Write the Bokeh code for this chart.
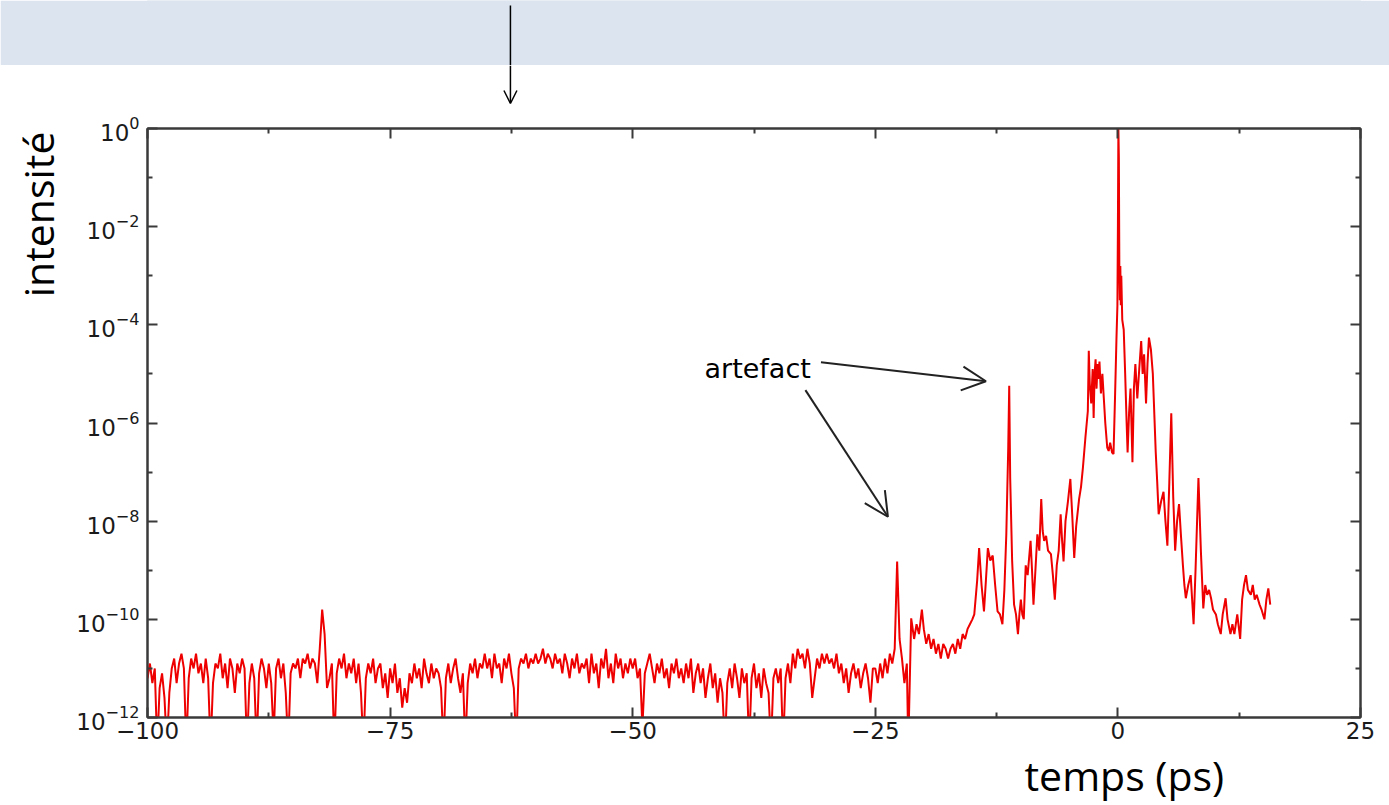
import math
from bokeh.plotting import figure
from bokeh.layouts import column
from bokeh.models import (FixedTicker, LinearAxis, LogAxis, Label, Arrow, OpenHead, Title,
                          Range1d, ColumnDataSource, CustomJSTickFormatter)
from bokeh.embed import file_html
from bokeh.resources import INLINE

# ---------------- data (log10 of intensity) ----------------
base_x0 = -100.0
base_dx = 0.25
base_log = [
    # -100 .. -95
    -11.2, -10.9, -11.3, -11.0, -12.6, -11.4, -11.1, -11.6, -12.6, -11.5,
    -11.0, -10.8, -11.3, -10.9, -10.7, -11.0, -12.6, -11.2, -10.8, -11.0,
    # -95 .. -90
    -10.7, -11.1, -10.9, -11.3, -10.8, -11.2, -12.6, -11.3, -10.9, -11.0,
    -10.7, -11.2, -10.9, -11.4, -10.8, -11.0, -11.5, -10.9, -11.1, -10.8,
    # -90 .. -85
    -11.0, -12.6, -11.3, -10.9, -11.2, -12.6, -11.1, -10.8, -11.0, -11.4,
    -10.9, -11.3, -12.4, -11.0, -10.8, -11.2, -10.9, -11.5, -12.6, -11.1,
    # -85 .. -80
    -10.9, -11.0, -10.8, -11.2, -10.8, -10.9, -10.7, -11.0, -10.8, -10.9,
    -11.3, -10.6, -9.8, -10.3, -11.4, -11.2, -10.9, -12.6, -11.1, -10.8,
    # -80 .. -75
    -11.0, -10.7, -11.2, -10.9, -11.1, -10.8, -11.3, -10.9, -11.5, -12.6,
    -11.2, -10.9, -11.1, -10.8, -11.3, -11.0, -10.9, -11.4, -11.1, -11.6,
    # -75 .. -70
    -11.0, -11.3, -10.9, -11.5, -11.2, -11.8, -11.4, -11.7, -11.1, -11.3,
    -10.9, -11.2, -11.0, -11.4, -10.8, -11.1, -11.3, -10.9, -11.2, -11.0,
    # -70 .. -65
    -11.1, -11.4, -12.6, -11.2, -10.9, -11.3, -11.0, -10.8, -11.2, -11.5,
    -11.1, -12.6, -11.3, -10.9, -11.1, -10.8, -11.2, -10.9, -11.0, -10.7,
    # -65 .. -60
    -11.0, -10.8, -11.2, -10.7, -11.0, -10.9, -11.3, -10.8, -11.0, -10.7,
    -11.1, -11.4, -12.6, -11.0, -10.8, -10.9, -10.7, -11.0, -10.8, -10.9,
    # -60 .. -55
    -10.7, -10.9, -10.8, -10.6, -10.9, -10.7, -10.8, -11.0, -10.7, -10.9,
    -10.8, -11.1, -10.7, -10.9, -11.2, -10.8, -11.0, -10.7, -11.1, -10.9,
    # -55 .. -50
    -11.0, -10.8, -11.3, -10.7, -11.1, -10.9, -11.4, -10.8, -11.0, -10.6,
    -11.2, -10.9, -11.3, -10.7, -11.0, -10.8, -11.2, -10.9, -11.1, -10.8,
    # -50 .. -45
    -11.0, -10.8, -11.2, -11.0, -12.2, -11.1, -10.9, -10.7, -11.0, -11.3,
    -10.9, -11.1, -10.8, -11.2, -11.0, -11.4, -10.9, -11.1, -10.8, -11.2,
    # -45 .. -40
    -11.0, -11.3, -10.9, -11.2, -10.8, -11.5, -11.1, -10.9, -11.3, -11.0,
    -11.6, -11.2, -10.9, -11.4, -11.1, -11.7, -11.2, -11.5, -12.6, -11.3,
    # -40 .. -35
    -11.0, -11.4, -10.9, -11.2, -11.6, -11.0, -11.3, -11.1, -12.6, -11.2,
    -10.9, -11.4, -11.1, -11.6, -11.0, -11.3, -11.5, -12.6, -11.2, -11.0,
    # -35 .. -30
    -11.3, -11.0, -12.6, -11.2, -10.9, -11.3, -10.7, -11.0, -10.6, -10.8,
    -10.7, -11.0, -10.6, -10.9, -11.6, -11.2, -10.8, -11.0, -10.7, -10.9,
    # -30 .. -25
    -10.7, -10.9, -10.8, -11.0, -10.7, -11.1, -10.9, -11.3, -11.0, -11.5,
    -11.1, -10.9, -11.2, -11.0, -11.4, -11.1, -10.9, -11.2, -11.7, -11.0,
]

tail_x = [
    -25.0, -24.75, -24.5, -24.25, -24.0, -23.75, -23.5, -23.25, -23.0, -22.75,
    -22.5, -22.25, -22.0, -21.75, -21.6, -21.3, -21.0, -20.75, -20.5, -20.2,
    -20.0, -19.75, -19.5, -19.25, -19.0, -18.75, -18.5, -18.25, -18.0, -17.75,
    -17.5, -17.25, -17.0, -16.75, -16.5, -16.25, -16.0, -15.75, -15.5, -15.25,
    -15.0, -14.8, -14.5, -14.3, -14.05, -13.8, -13.6, -13.4, -13.15, -12.9,
    -12.65, -12.4, -12.15, -11.9, -11.7, -11.5, -11.3, -11.2, -11.1, -10.9,
    -10.7, -10.5, -10.3, -10.15, -10.0, -9.85, -9.7, -9.5, -9.3, -9.0,
    -8.85, -8.7, -8.5, -8.3, -8.1, -7.9, -7.75, -7.6, -7.4, -7.2,
    -6.9, -6.7, -6.5, -6.3, -6.1, -5.9, -5.75, -5.6, -5.4, -5.15,
    -4.9, -4.7, -4.5, -4.3, -4.0, -3.8, -3.6, -3.35, -3.1, -3.0,
    -2.9, -2.75, -2.6, -2.5, -2.4, -2.3, -2.2, -2.1, -2.0, -1.9,
    -1.75, -1.6, -1.45, -1.3, -1.1, -0.95, -0.8, -0.6, -0.45, -0.3,
    -0.15, -0.05, 0.0, 0.05, 0.1, 0.15, 0.2, 0.25, 0.3, 0.35,
    0.45, 0.6, 0.75, 0.9, 1.0, 1.15, 1.3, 1.5, 1.65, 1.8,
    2.0, 2.2, 2.4, 2.55, 2.7, 2.9, 3.05, 3.2, 3.4, 3.6,
    3.9, 4.05, 4.2, 4.45, 4.7, 4.9, 5.1, 5.3, 5.5, 5.7,
    5.9, 6.1, 6.3, 6.5, 6.7, 6.85, 7.0, 7.25, 7.5, 7.65,
    7.8, 8.0, 8.3, 8.55, 8.8, 9.0, 9.2, 9.4, 9.6, 9.8,
    10.1, 10.3, 10.6, 10.8, 11.1, 11.3, 11.6, 11.8, 12.0, 12.3,
    12.6, 12.8, 13.0, 13.2, 13.4, 13.7, 13.9, 14.1, 14.3, 14.6,
    14.8, 15.1, 15.3, 15.5, 15.7,
]
tail_log = [
    -11.0, -11.3, -10.9, -11.2, -10.8, -11.1, -10.7, -10.9, -10.6, -8.82,
    -10.4, -10.8, -11.3, -10.9, -12.6, -9.98, -10.4, -10.1, -10.3, -9.8,
    -10.2, -10.5, -10.3, -10.6, -10.4, -10.7, -10.5, -10.8, -10.5, -10.6,
    -10.8, -10.6, -10.5, -10.7, -10.4, -10.6, -10.3, -10.4, -10.2, -10.1,
    -10.0, -9.9, -9.2, -8.55, -9.3, -9.84, -9.2, -8.55, -8.8, -8.7,
    -9.3, -9.84, -9.9, -10.1, -9.4, -8.27, -6.5, -5.24, -7.12, -8.8,
    -9.7, -9.9, -10.3, -9.9, -9.6, -9.9, -10.0, -8.9, -9.1, -8.4,
    -9.0, -9.7, -9.0, -8.27, -8.6, -7.55, -8.2, -8.4, -8.3, -8.6,
    -8.67, -9.1, -9.6, -8.9, -8.6, -7.86, -8.4, -8.82, -8.0, -7.6,
    -7.14, -7.9, -8.75, -8.1, -7.55, -7.3, -6.9, -6.3, -5.76, -4.53,
    -5.2, -5.6, -4.9, -5.9, -5.0, -4.7, -5.3, -4.8, -5.1, -4.75,
    -5.4, -5.0, -5.5, -6.0, -6.5, -6.57, -6.4, -6.6, -6.63, -5.5,
    -4.3, -3.6, -2.0, 0.0, -0.6, -2.9, -3.5, -2.8, -3.6, -3.0,
    -3.9, -4.1, -5.0, -6.0, -6.6, -5.8, -5.3, -6.8, -5.3, -4.8,
    -5.5, -4.9, -4.33, -5.0, -4.6, -5.6, -4.8, -4.26, -4.5, -5.0,
    -6.6, -7.2, -7.86, -7.6, -7.4, -8.0, -8.5, -7.2, -5.8, -7.5,
    -8.6, -8.0, -7.65, -8.3, -8.9, -9.3, -9.57, -9.3, -9.1, -9.6,
    -10.1, -9.0, -7.12, -8.6, -9.78, -9.3, -9.5, -9.4, -9.57, -9.8,
    -9.9, -10.1, -10.3, -9.9, -9.57, -10.0, -10.3, -10.1, -10.3, -9.9,
    -10.4, -9.6, -9.3, -9.1, -9.4, -9.5, -9.3, -9.6, -9.5, -9.7,
    -9.8, -10.0, -9.6, -9.37, -9.7,
]

x_ticks = [-100, -75, -50, -25, 0, 25]
x_tick_labels = ["\u2212100", "\u221275", "\u221250", "\u221225", "0", "25"]
x_minor = [-87.5, -62.5, -37.5, -12.5, 12.5]
y_exp_major = [-12, -10, -8, -6, -4, -2, 0]
y_exp_minor = [-11, -9, -7, -5, -3, -1]

annot_text = "artefact"
annot_text_pos = (-42.6, -4.88)          # (x, log10 y)
annot_arrows = [((-30.6, -4.76), (-13.6, -5.15)),
                ((-32.2, -5.33), (-23.7, -7.91))]

# header: blue band (65 px) + white strip (43 px); arrow at x = -62.6 (data units)
W = 1389
BAND_H = 65
GAP_H = 43
head_arrow_x = -62.6
head_arrow_band = (4, 64)     # pixel rows inside the band strip frame
head_arrow_gap = (0, 38)      # pixel rows inside the white strip
BAND_COLOR = "#dbe4ef"
BORDERS = dict(min_border_left=147, min_border_right=29)

# ---------------- header strips ----------------
band = figure(width=W, height=BAND_H, x_range=Range1d(-100, 25), y_range=Range1d(BAND_H - 1, 0),
              output_backend="svg", toolbar_location=None, min_border_top=1, min_border_bottom=0,
              background_fill_color=BAND_COLOR, border_fill_color=BAND_COLOR, **BORDERS)
band.axis.visible = False
band.grid.visible = False
band.outline_line_color = BAND_COLOR
band.outline_line_width = 2
band.segment(x0=[head_arrow_x], y0=[head_arrow_band[0]], x1=[head_arrow_x], y1=[head_arrow_band[1]],
             line_color="black", line_width=1.5)

gap = figure(width=W, height=GAP_H, x_range=Range1d(-100, 25), y_range=Range1d(GAP_H, 0),
             output_backend="svg", toolbar_location=None, min_border_top=0, min_border_bottom=0,
             background_fill_color="white", border_fill_color="white", **BORDERS)
gap.axis.visible = False
gap.grid.visible = False
gap.outline_line_color = None
gap.add_layout(Arrow(x_start=head_arrow_x, y_start=head_arrow_gap[0],
                     x_end=head_arrow_x, y_end=head_arrow_gap[1],
                     line_color="black", line_width=1.5,
                     end=OpenHead(size=13, line_color="black", line_width=1.5)))

HEAD_H = BAND_H + GAP_H

# ---------------- main plot ----------------
xs = [base_x0 + base_dx * i for i in range(len(base_log))] + tail_x
ys = [10.0 ** v for v in base_log + tail_log]
src = ColumnDataSource(dict(x=xs, y=ys))

p = figure(width=W, height=805 - HEAD_H, x_range=Range1d(-100, 25), y_range=Range1d(1e-12, 1.0),
           y_axis_type="log", output_backend="svg", toolbar_location=None,
           min_border_top=128 - HEAD_H, min_border_bottom=87,
           background_fill_color="white", border_fill_color="white", **BORDERS)
p.xgrid.visible = False
p.ygrid.visible = False
p.outline_line_color = "#3a3a3a"
p.outline_line_width = 2

xticker = FixedTicker(ticks=x_ticks, minor_ticks=x_minor)
yticker = FixedTicker(ticks=[10.0 ** e for e in y_exp_major],
                      minor_ticks=[10.0 ** e for e in y_exp_minor])

def style_axis(ax):
    ax.major_tick_in = 10
    ax.major_tick_out = 0
    ax.minor_tick_in = 5
    ax.minor_tick_out = 0
    ax.axis_line_color = "#3a3a3a"
    ax.axis_line_width = 2
    ax.major_tick_line_color = "#3a3a3a"
    ax.major_tick_line_width = 2
    ax.minor_tick_line_color = "#3a3a3a"
    ax.minor_tick_line_width = 2
    ax.major_label_text_font = "DejaVu Sans"
    ax.major_label_text_font_size = "23px"
    ax.major_label_text_color = "#1a1a1a"

xa = p.xaxis[0]
xa.ticker = xticker
xa.major_label_overrides = {t: s for t, s in zip(x_ticks, x_tick_labels)}
style_axis(xa)
xa.major_label_standoff = 4

ya = p.yaxis[0]
ya.ticker = yticker
style_axis(ya)
ya.major_label_standoff = 8

top_ax = LinearAxis(ticker=xticker, formatter=CustomJSTickFormatter(code="return ''"))
style_axis(top_ax)
top_ax.major_label_text_font_size = "1px"
top_ax.major_label_standoff = 0
p.add_layout(top_ax, "above")
right_ax = LogAxis(ticker=yticker, formatter=CustomJSTickFormatter(code="return ''"))
style_axis(right_ax)
right_ax.major_label_text_font_size = "1px"
p.add_layout(right_ax, "right")

p.line("x", "y", source=src, line_color="#ee0000", line_width=2.0)

# annotation
p.add_layout(Label(x=annot_text_pos[0], y=10 ** annot_text_pos[1], text=annot_text,
                   text_font="DejaVu Sans", text_font_size="27px", text_baseline="middle",
                   text_color="black"))
for (s, e) in annot_arrows:
    p.add_layout(Arrow(x_start=s[0], y_start=10 ** s[1], x_end=e[0], y_end=10 ** e[1],
                       line_color="#222222", line_width=2,
                       end=OpenHead(size=24, line_color="#222222", line_width=2)))

# axis titles
p.add_layout(Title(text="intensité", align="right", offset=3, text_font="Open Sans",
                   text_font_size="41px", text_font_style="normal", text_color="black",
                   standoff=15), "left")
p.add_layout(Title(text="temps (ps)", align="left", offset=877, text_font="Open Sans",
                   text_font_size="41px", text_font_style="normal", text_color="black",
                   standoff=6), "below")

open("out.html", "w").write(file_html(column(band, gap, p), INLINE))
